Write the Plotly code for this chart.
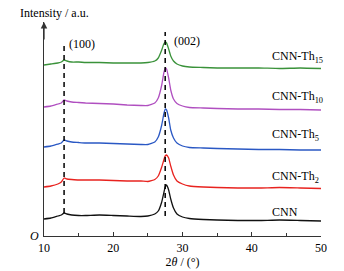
import plotly.graph_objects as go

two_theta = [10, 11, 12, 12.5, 12.9, 13.3, 14, 15, 16, 18, 20, 22, 24, 25, 26, 26.5, 27, 27.3,
             27.5, 27.7, 28, 28.3, 28.7, 29.2, 30, 31, 33, 35, 38, 41, 44, 47, 50]

cnn = [17, 18, 20, 21, 23, 22, 21, 20.5, 20.5, 21, 20.5, 20, 19.5, 20, 22, 25, 34, 43,
       49, 51, 46, 37, 28, 22, 19, 17.5, 16.5, 16, 15.5, 15.5, 16, 15.5, 15]
cnn_th2 = [49, 50, 52, 54, 58, 57, 56.5, 56, 56, 56, 55.5, 55, 55, 54.5, 56.5, 60, 69, 76,
           80, 81, 78, 70, 61, 55, 52, 50, 49, 48.5, 48, 48, 48.5, 48, 47.5]
cnn_th5 = [89, 90, 92, 93, 96, 95, 94, 93.5, 93, 93, 92.5, 92, 91.5, 91.5, 94, 99, 111, 122,
           127, 126, 118, 106, 98, 93, 90, 88.5, 88, 87.5, 87, 86.5, 86.5, 86, 86]
cnn_th10 = [129, 130, 132, 133, 136, 135, 134, 133.5, 133, 132.5, 132, 131, 130.5, 130.5, 133, 138, 151, 163,
            168, 167, 158, 146, 137, 132.5, 130, 128.5, 128, 127.5, 127, 127, 126.5, 126.5, 126]
cnn_th15 = [171, 172, 173, 174, 176, 175, 174, 174, 173.5, 173.5, 173, 173, 173, 173.5, 175, 178, 186, 192,
            194, 193, 187, 180, 175, 172, 170, 169, 168.5, 168, 168, 168, 167.5, 168, 167.5]

series_names = ["CNN", "CNN-Th<sub>2</sub>", "CNN-Th<sub>5</sub>", "CNN-Th<sub>10</sub>", "CNN-Th<sub>15</sub>"]
series_values = [cnn, cnn_th2, cnn_th5, cnn_th10, cnn_th15]
series_colors = ["#111111", "#e8231f", "#2a58c4", "#b04fc0", "#3a923a"]
label_y = [24, 59, 101, 139, 179]
label_x = 42.6

peak_pos = [12.9, 27.5]
peak_labels = ["(100)", "(002)"]
peak_line_bottom = [23, 20]
peak_line_top = [194, 204]
peak_label_x = [13.3, 28.5]
peak_label_y = [192, 195]

x_ticks = [10, 20, 30, 40, 50]

font = "'Liberation Serif', 'Times New Roman', Times, serif"
fig = go.Figure()

for name, vals, col in zip(series_names, series_values, series_colors):
    fig.add_trace(go.Scatter(x=two_theta, y=vals, mode="lines", name=name,
                             line=dict(color=col, width=1.3, shape="spline", smoothing=0.4)))

for p, lb, lt in zip(peak_pos, peak_line_bottom, peak_line_top):
    fig.add_trace(go.Scatter(x=[p, p], y=[lb, lt], mode="lines",
                             line=dict(color="black", width=1.5, dash="5px,4px")))

anns = []
for name, ly in zip(series_names, label_y):
    anns.append(dict(x=label_x, y=ly, text=name, showarrow=False, xanchor="left", yanchor="middle",
                     font=dict(family=font, size=12, color="black")))
for t, px, py in zip(peak_labels, peak_label_x, peak_label_y):
    anns.append(dict(x=px, y=py, text=t, showarrow=False, xanchor="left", yanchor="middle",
                     font=dict(family=font, size=12, color="black")))
anns.append(dict(x=10, y=214, ax=10, ay=195, xref="x", yref="y", axref="x", ayref="y",
                 text="", showarrow=True, arrowhead=2, arrowsize=1, arrowwidth=1.3, arrowcolor="#333"))
anns.append(dict(x=-26 / 277, y=1.04, xref="paper", yref="paper", text="Intensity / a.u.", showarrow=False,
                 xanchor="left", yanchor="middle", font=dict(family=font, size=12, color="black")))
anns.append(dict(x=10, y=0, text="<i>O</i>", showarrow=False, xanchor="right", yanchor="middle",
                 xshift=-3, font=dict(family=font, size=12, color="black")))

fig.update_layout(
    width=336, height=263,
    margin=dict(l=36, r=23, t=14, b=35, autoexpand=False),
    paper_bgcolor="white", plot_bgcolor="white",
    showlegend=False,
    annotations=anns,
    font=dict(family=font, size=12, color="black"),
    xaxis=dict(range=[10, 50], tickvals=x_ticks, ticks="inside", ticklen=4, tickwidth=1,
               tickcolor="#333", showline=True, linecolor="#333", linewidth=1.3,
               showgrid=False, zeroline=False, automargin=False,
               minor=dict(dtick=5, tick0=10, ticks="inside", ticklen=3, tickcolor="#333"),
               title=dict(text="2<i>θ</i> / (°)", standoff=4, font=dict(family=font, size=12)),
               tickfont=dict(family=font, size=12)),
    yaxis=dict(range=[0, 214], showticklabels=False, ticks="", showline=True, linecolor="#333",
               linewidth=1.3, showgrid=False, zeroline=False, automargin=False),
)

fig.write_html("out.html")
